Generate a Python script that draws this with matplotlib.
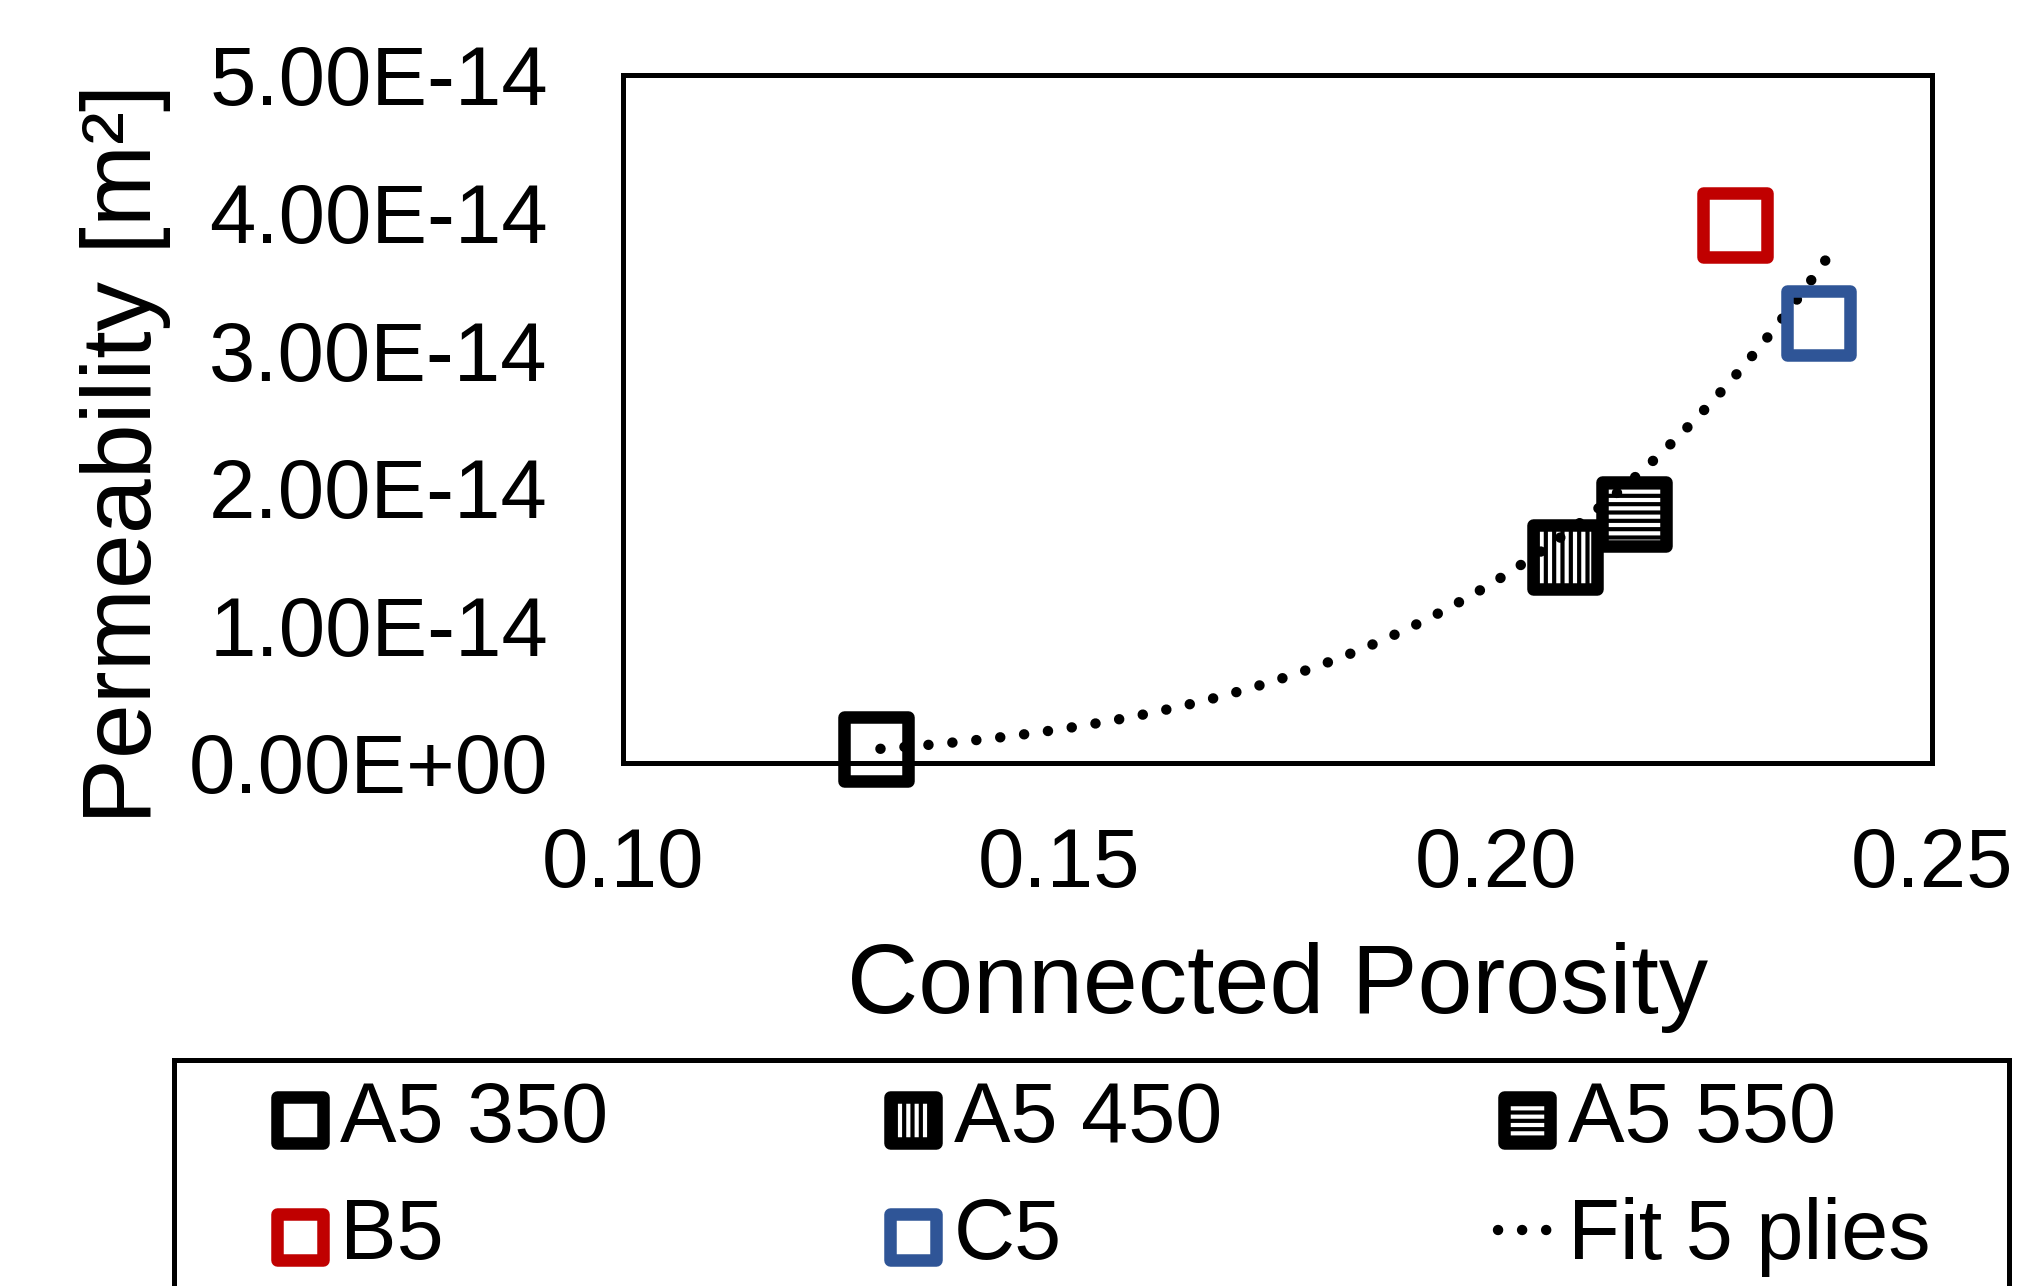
import numpy as np
import matplotlib
matplotlib.use("Agg")
import matplotlib.pyplot as plt
from matplotlib.ticker import FuncFormatter
from matplotlib.patches import Rectangle

# ---- data ----
labels = ["A5 350", "A5 450", "A5 550", "B5", "C5"]
porosity = [0.129, 0.2079, 0.2159, 0.2274, 0.2370]
permeability = [1.03e-15, 1.50e-14, 1.81e-14, 3.91e-14, 3.20e-14]
edge_colors = ["black", "black", "black", "#C00000", "#2F5597"]
hatches = [None, "||", "--", None, None]
fit_label = "Fit 5 plies"
fit_range = [0.1295, 0.2389]
x_ticks = [0.10, 0.15, 0.20, 0.25]
y_ticks = [0, 1e-14, 2e-14, 3e-14, 4e-14, 5e-14]

# power-law trendline fitted on the data (as a spreadsheet trendline)
b, lna = np.polyfit(np.log(porosity), np.log(permeability), 1)
xf = np.linspace(fit_range[0], fit_range[1], 300)
yf = np.exp(lna) * xf ** b

plt.rcParams['font.family'] = ['Liberation Sans', 'DejaVu Sans']
plt.rcParams['hatch.linewidth'] = 3.0

W, H = 2022, 1286
fig = plt.figure(figsize=(W / 100, H / 100), dpi=100)
ax = fig.add_axes([623 / W, 1 - 763 / H, (1932 - 623) / W, (763 - 75) / H])

fit_line, = ax.plot(xf, yf, color='black', lw=7.5, linestyle=(0, (0.01, 2.3)),
                    dash_capstyle='round', label=fit_label, zorder=2)

handles = {}
for lab, x, y, c, h in zip(labels, porosity, permeability, edge_colors, hatches):
    sc = ax.scatter([x], [y], marker='s', s=46 ** 2, facecolors='none',
                    edgecolors=c, linewidths=9, hatch=h, label=lab,
                    clip_on=False, zorder=3)
    handles[lab] = sc

ax.set_xlim(0.10, 0.25)
ax.set_ylim(0, 5e-14)
ax.set_xticks(x_ticks)
ax.set_yticks(y_ticks)
ax.xaxis.set_major_formatter(FuncFormatter(lambda v, p: f"{v:.2f}"))
ax.yaxis.set_major_formatter(FuncFormatter(lambda v, p: f"{v:.2E}"))
ax.tick_params(length=0, labelsize=60)
ax.tick_params(axis='x', pad=45)
ax.tick_params(axis='y', pad=54)
for s in ax.spines.values():
    s.set_linewidth(3.6)

ax.set_xlabel("Connected Porosity", fontsize=71, labelpad=28)
ax.set_ylabel("Permeability [m²]", fontsize=71, va='center')
ax.yaxis.set_label_coords(-0.380, 0.449)

order = ["A5 350", "B5", "A5 450", "C5", "A5 550"]
leg_handles = [handles[k] for k in order] + [fit_line]
leg_labels = order + [fit_label]
fig.legend(leg_handles, leg_labels, ncol=3, loc='upper left',
           bbox_to_anchor=(270 / W, 1 - 1080 / H), frameon=False, fontsize=61,
           handlelength=0.7, handletextpad=0.13, columnspacing=3.25,
           labelspacing=0.44, borderpad=0, borderaxespad=0, markerscale=0.72)
fig.add_artist(Rectangle((174 / W, -0.05), (2009 - 174) / W, 0.05 + 1 - 1060 / H,
                         transform=fig.transFigure, fill=False, lw=3.6,
                         ec='black', clip_on=False))

fig.savefig('out.png', dpi=100)
